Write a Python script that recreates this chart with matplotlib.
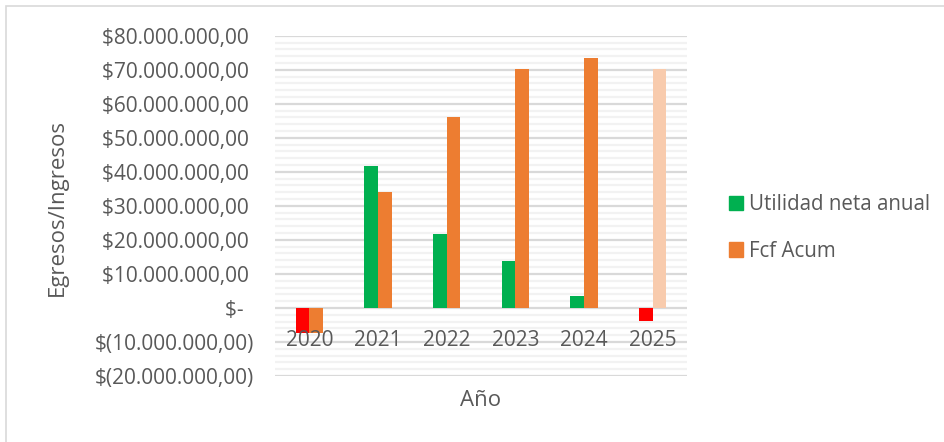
import matplotlib
matplotlib.use("Agg")
import matplotlib.pyplot as plt
from matplotlib.patches import Rectangle, Patch
import numpy as np

plt.rcParams['font.family'] = ['Open Sans', 'DejaVu Sans']

# datos
anios = ['2020', '2021', '2022', '2023', '2024', '2025']
utilidad = [-7.3e6, 41.6e6, 21.8e6, 13.9e6, 3.5e6, -3.7e6]
fcf_acum = [-7.3e6, 34.1e6, 56.0e6, 70.1e6, 73.5e6, 70.2e6]
y_ticks = [-20e6, -10e6, 0, 10e6, 20e6, 30e6, 40e6, 50e6, 60e6, 70e6, 80e6]
y_labels = ['$(20.000.000,00)', '$(10.000.000,00)', '$-  ', '$10.000.000,00 ',
            '$20.000.000,00 ', '$30.000.000,00 ', '$40.000.000,00 ', '$50.000.000,00 ',
            '$60.000.000,00 ', '$70.000.000,00 ', '$80.000.000,00 ']

VERDE = '#00B050'
ROJO = '#FF0000'
NARANJA = '#ED7D31'
NARANJA_CLARO = '#F8CBAD'
GRIS = '#595959'

W, H = 944, 442
fig = plt.figure(figsize=(W / 100, H / 100), dpi=100)

# borde del area del grafico
fig.patches.append(Rectangle((6 / W, -0.1), 1.2, (H - 6) / H + 0.1, transform=fig.transFigure,
                             fill=False, edgecolor='#d9d9d9', linewidth=1.2))

ax = fig.add_axes([275 / W, (H - 376) / H, 412 / W, (376 - 35.7) / H])
ax.set_axisbelow(True)

x = np.arange(len(anios))
w = 0.2
col_util = [ROJO if v < 0 else VERDE for v in utilidad]
col_fcf = [NARANJA] * (len(anios) - 1) + [NARANJA_CLARO]
ax.bar(x - w / 2, utilidad, w, color=col_util, zorder=2)
ax.bar(x + w / 2, fcf_acum, w, color=col_fcf, zorder=2)

ax.set_xlim(-0.5, len(anios) - 0.5)
ax.set_ylim(-20e6, 80e6)
ax.set_yticks(y_ticks)
ax.set_yticklabels(y_labels)
ax.set_yticks(np.arange(-20e6, 80e6 + 1, 2e6), minor=True)
ax.grid(axis='y', which='major', color='#d9d9d9', linewidth=1.6)
ax.grid(axis='y', which='minor', color='#f2f2f2', linewidth=1.6)

ax.set_xticks(x)
ax.set_xticklabels(anios)
ax.spines['bottom'].set_position(('data', 0))
for s in ax.spines.values():
    s.set_visible(False)
ax.xaxis.set_zorder(5)
ax.tick_params(axis='x', length=0, pad=16, labelsize=15, labelcolor=GRIS)
ax.tick_params(axis='y', which='both', length=0, pad=15, labelsize=15, labelcolor=GRIS)

fig.text(57 / W, 1 - 207 / H, 'Egresos/Ingresos', rotation=90, ha='center', va='center',
         fontsize=16, color=GRIS)
fig.text(481 / W, 1 - 400 / H, 'Año', ha='center', va='center', fontsize=16, color=GRIS)

handles = [Patch(color=VERDE), Patch(color=NARANJA)]
leg = fig.legend(handles, ['Utilidad neta anual', 'Fcf Acum'], loc='center left',
                 bbox_to_anchor=(710 / W, 1 - 228 / H), frameon=False, fontsize=14.8,
                 labelcolor=GRIS, handlelength=0.7, handleheight=0.7,
                 handletextpad=0.3, labelspacing=1.25)

fig.savefig('out.png', dpi=100)
